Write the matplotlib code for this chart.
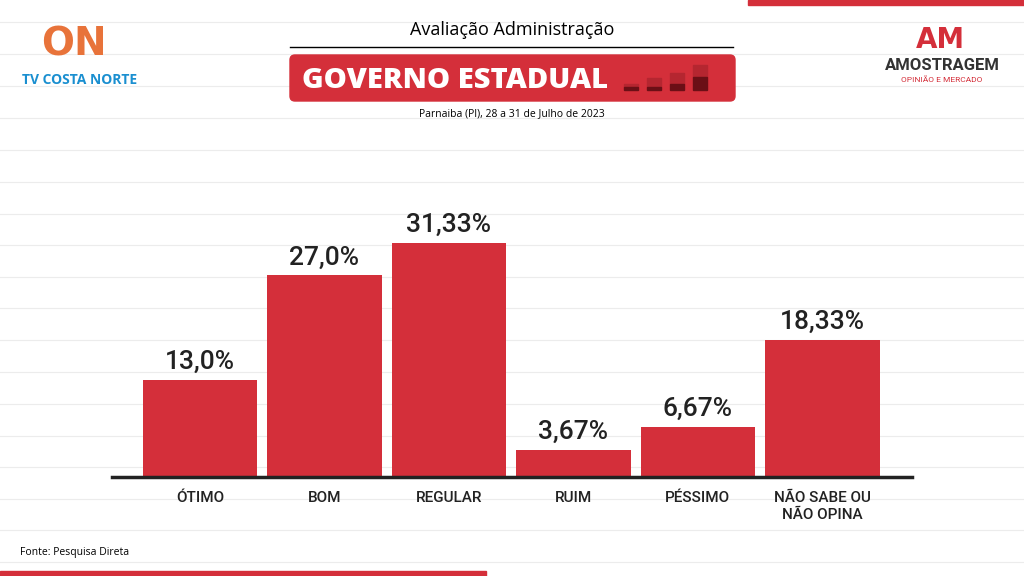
import matplotlib.pyplot as plt
from matplotlib.patches import Rectangle, FancyBboxPatch

categorias = ['ÓTIMO', 'BOM', 'REGULAR', 'RUIM', 'PÉSSIMO', 'NÃO SABE OU\nNÃO OPINA']
valores = [13.0, 27.0, 31.33, 3.67, 6.67, 18.33]
rotulos = ['13,0%', '27,0%', '31,33%', '3,67%', '6,67%', '18,33%']

VERMELHO = '#D42F3A'
W, H = 1024, 576

fig = plt.figure(figsize=(10.24, 5.76), dpi=100)
fig.patch.set_facecolor('white')

# linhas de fundo
bg = fig.add_axes([0, 0, 1, 1])
bg.set_xlim(0, W)
bg.set_ylim(H, 0)
bg.axis('off')
for y in [22, 54, 86, 118, 150, 182, 214, 245, 277, 308, 340, 372, 404, 436, 467, 499, 530, 562]:
    bg.plot([0, W], [y, y], color='#ececec', lw=0.8, zorder=0)

# faixas vermelhas
bg.add_patch(Rectangle((748, 0), 276, 5, color=VERMELHO))
bg.add_patch(Rectangle((0, 571), 486, 5, color=VERMELHO))

# cabecalho
bg.text(512, 30, 'Avaliação Administração', ha='center', va='center', fontsize=13, family='Open Sans')
bg.plot([290, 733], [47, 47], color='black', lw=1)
bg.add_patch(FancyBboxPatch((290, 55), 445, 46, boxstyle='round,pad=0,rounding_size=5', color=VERMELHO))
bg.text(302, 80, 'GOVERNO ESTADUAL', ha='left', va='center', fontsize=21, color='white',
        fontweight='heavy', family='Open Sans')
for i, (h1, h2) in enumerate([(3, 3), (9, 3), (11, 6), (12, 13)]):
    x = 624 + i * 23
    bg.add_patch(Rectangle((x, 90 - h1 - h2), 14, h1, color='#b52630'))
    bg.add_patch(Rectangle((x, 90 - h2), 14, h2, color='#6b0f16'))
bg.text(512, 114, 'Parnaiba (PI), 28 a 31 de Julho de 2023', ha='center', va='center', fontsize=7.5,
        family='Open Sans')
bg.text(20, 552, 'Fonte: Pesquisa Direta', ha='left', va='center', fontsize=7.5, family='Open Sans')

# logos (texto)
bg.text(80, 80, 'TV COSTA NORTE', ha='center', va='center', fontsize=10, color='#1a8fd0',
        fontweight='bold', family='Open Sans')
bg.text(74, 45, 'ON', ha='center', va='center', fontsize=28, color='#e8733a', fontweight='heavy')
bg.text(942, 66, 'AMOSTRAGEM', ha='center', va='center', fontsize=12, color='#333333',
        fontweight='bold', family='Roboto')
bg.text(942, 80, 'OPINIÃO E MERCADO', ha='center', va='center', fontsize=6, color=VERMELHO,
        family='Roboto')
bg.text(940, 40, 'AM', ha='center', va='center', fontsize=20, color=VERMELHO, fontweight='heavy')

# grafico
ax = fig.add_axes([112 / W, 1 - 477 / H, 800 / W, 327 / H])
ax.patch.set_alpha(0)
x = list(range(len(valores)))
ax.bar(x, valores, width=0.92, color=VERMELHO)
ax.set_xlim(-0.707, 5.72)
ax.set_ylim(0, 43.8)
for xi, v, r in zip(x, valores, rotulos):
    ax.text(xi, v + 0.8, r, ha='center', va='bottom', fontsize=19, color='#222222',
            family='Roboto', fontweight='medium')
for s in ['top', 'right', 'left']:
    ax.spines[s].set_visible(False)
ax.spines['bottom'].set_linewidth(2.5)
ax.spines['bottom'].set_color('#222222')
ax.set_yticks([])
ax.set_xticks(x)
ax.set_xticklabels(categorias, fontsize=11, family='Roboto', fontweight='medium', color='#222222',
                   linespacing=1.3)
ax.tick_params(axis='x', length=0, pad=10)

fig.savefig('out.png', dpi=100)
